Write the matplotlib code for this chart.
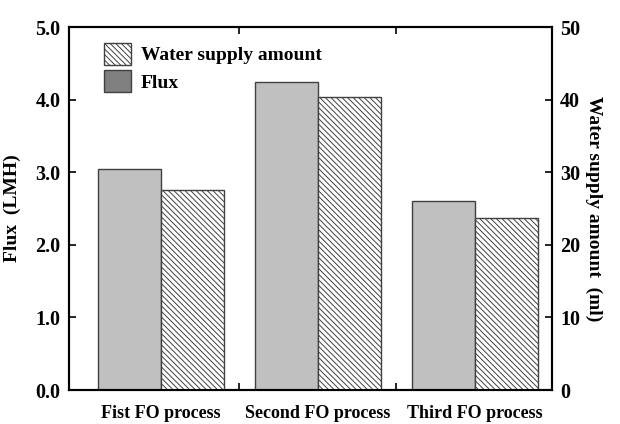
import matplotlib.pyplot as plt
import matplotlib.patches as mpatches
import numpy as np

plt.rcParams["font.family"] = ["Liberation Serif", "DejaVu Serif"]
plt.rcParams["font.weight"] = "bold"
plt.rcParams["hatch.linewidth"] = 0.7
plt.rcParams["hatch.color"] = "#707070"

# Data
processes = ["Fist FO process", "Second FO process", "Third FO process"]
flux = [3.05, 4.25, 2.60]          # LMH
water_supply = [27.6, 40.4, 23.7]  # ml

x = np.arange(len(processes))
w = 0.4

fig, ax = plt.subplots(figsize=(6.2, 4.24), dpi=100)
fig.subplots_adjust(left=0.111, right=0.890, top=0.936, bottom=0.080)
ax2 = ax.twinx()

ax.bar(x - w / 2, flux, w, color="#c0c0c0", edgecolor="#404040", linewidth=1.0)
ax2.bar(x + w / 2, water_supply, w, color="white", edgecolor="#404040",
        linewidth=1.0, hatch="\\\\\\\\\\\\")

ax.set_xlim(-0.586, 2.49)
ax.set_ylim(0, 5)
ax2.set_ylim(0, 50)

ax.set_yticks(np.arange(0, 5.1, 1.0))
ax.set_yticklabels([f"{v:.1f}" for v in np.arange(0, 5.1, 1.0)])
ax2.set_yticks(np.arange(0, 51, 10))

ax.set_xticks(x)
ax.set_xticklabels(processes)
ax.set_xticks([0.5, 1.5], minor=True)
ax.tick_params(axis="x", which="major", length=0, labelsize=13, pad=11)
ax.tick_params(axis="x", which="minor", direction="in", length=5, width=1.2, top=True)
ax.tick_params(axis="y", direction="in", length=5, width=1.2, labelsize=14.5, pad=6)
ax2.tick_params(axis="y", direction="in", length=5, width=1.2, labelsize=14.5, pad=6)

for a in (ax, ax2):
    for s in a.spines.values():
        s.set_linewidth(1.5)

ax.set_ylabel("Flux  (LMH)", fontsize=14, fontweight="bold", labelpad=10)
ax2.set_ylabel("Water supply amount  (ml)", fontsize=14, fontweight="bold",
               rotation=-90, labelpad=16)

handles = [
    mpatches.Patch(facecolor="white", edgecolor="#404040", hatch="\\\\\\\\\\\\",
                   label="Water supply amount"),
    mpatches.Patch(facecolor="#808080", edgecolor="#404040", label="Flux"),
]
ax2.legend(handles=handles, loc="upper left", frameon=False, fontsize=14,
           handlelength=1.4, handleheight=1.4, borderaxespad=0.4,
           bbox_to_anchor=(0.04, 1.0), labelspacing=0.25, handletextpad=0.5)

plt.savefig("out.png", dpi=100)
